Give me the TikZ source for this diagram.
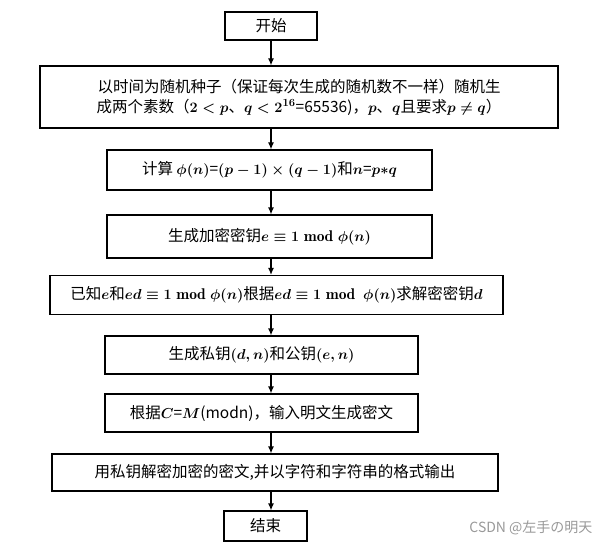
\documentclass[tikz,border=0pt]{standalone}
\usepackage{amsmath,amssymb}
\usepackage{fontspec}
\newfontfamily\cjk{Noto Sans CJK SC}
\usetikzlibrary{positioning,arrows.meta}
\tikzset{
    base/.style={font=\cjk\fontsize{15.5}{20}\selectfont\boldmath, align=center},
    stepbox/.style={base, rectangle, draw=black, line width=1.2pt, inner sep=2pt},
    flow/.style={-{Latex[length=7pt,width=6pt]}, line width=1.2pt}
}
\begin{document}
\begin{tikzpicture}[x=1pt,y=1pt]
  \useasboundingbox (0,0) rectangle (601,-548);
  % steps of the flow
  \node[stepbox, minimum width=92pt, minimum height=28pt] (start) at (271,-26) {开始};
  \node[stepbox, minimum width=518pt, minimum height=62pt] (primes) at (299,-97)
    {以时间为随机种子（保证每次生成的随机数不一样）随机生\\成两个素数（$2<p$、$q<2^{16}$=65536)，$p$、$q$且要求$p\neq q$）};
  \node[stepbox, minimum width=325pt, minimum height=40pt] (phi) at (269.5,-170)
    {计算 $\phi(n)$=$(p-1)\times(q-1)$和$n$=$p{*}q$};
  \node[stepbox, minimum width=325pt, minimum height=43pt] (enc) at (269.5,-236.5)
    {生成加密密钥$e\equiv 1 \bmod \phi(n)$};
  \node[stepbox, minimum width=453pt, minimum height=39pt] (dec) at (276.5,-295)
    {已知$e$和$ed\equiv 1 \bmod \phi(n)$根据$ed\equiv 1 \bmod\ \phi(n)$求解密密钥$d$};
  \node[stepbox, minimum width=313pt, minimum height=38pt] (keys) at (261.5,-355)
    {生成私钥$(d,n)$和公钥$(e,n)$};
  \node[stepbox, minimum width=313pt, minimum height=38pt] (cipher) at (261.5,-413)
    {根据$C$=$M$(modn)，输入明文生成密文};
  \node[stepbox, minimum width=446pt, minimum height=37pt] (output) at (275,-472.5)
    {用私钥解密加密的密文,并以字符和字符串的格式输出};
  \node[stepbox, minimum width=83pt, minimum height=30pt] (stop) at (265.5,-526) {结束};
  % connectors
  \foreach \a/\b in {start/primes, primes/phi, phi/enc, enc/dec, dec/keys, keys/cipher, cipher/output, output/stop}
    \draw[flow] (\a.south -| 271,0) -- (\b.north -| 271,0);
  % watermark
  \node[font=\cjk\fontsize{14}{16}\selectfont, text=black!40, anchor=east] (mark) at (596,-528) {CSDN @左手の明天};
\end{tikzpicture}
\end{document}
